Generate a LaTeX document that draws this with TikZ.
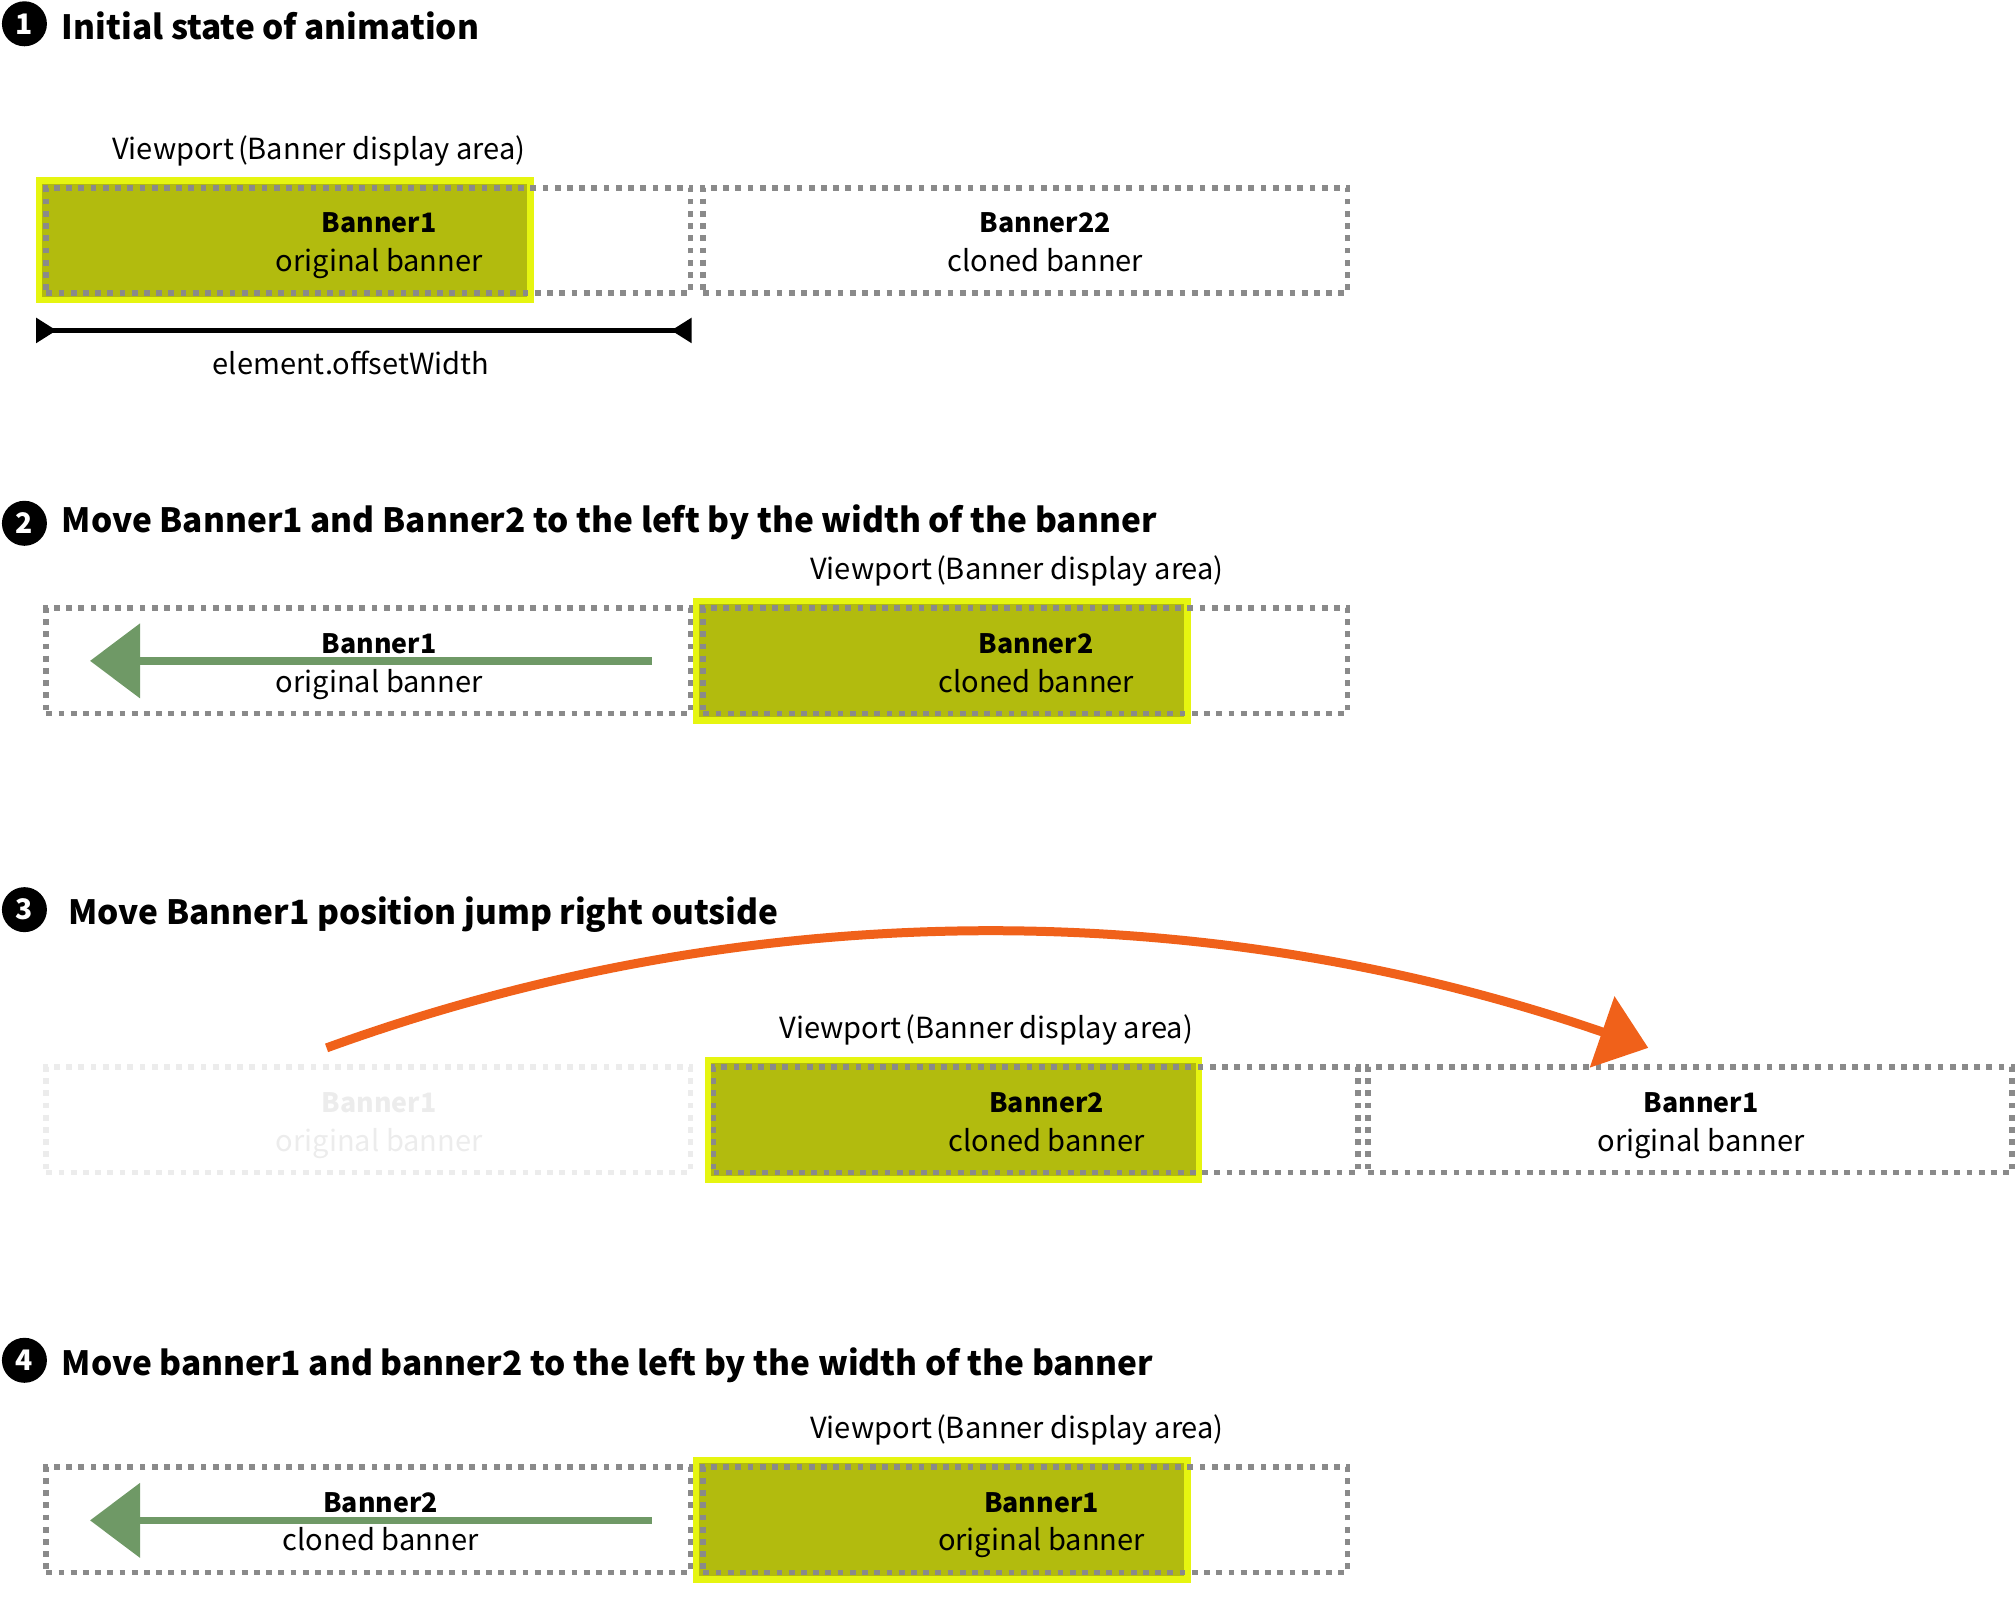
\documentclass[tikz,border=0pt]{standalone}
\usepackage{fontspec}
\setmainfont{Noto Sans CJK KR}
\usetikzlibrary{arrows.meta}
\definecolor{dotgray}{HTML}{8A8A8A}
\definecolor{fadegray}{HTML}{ECECEC}
\definecolor{olivefill}{HTML}{B2BB0E}
\definecolor{limeedge}{HTML}{E6F510}
\definecolor{arrowgreen}{HTML}{6F9966}
\definecolor{jumporange}{HTML}{F0611A}
\tikzset{
  dotbox/.style={draw=dotgray, line width=4.5pt, dash pattern=on 4.5pt off 5pt,
    minimum width=501pt, minimum height=82pt, inner sep=0pt, outer sep=0pt, anchor=north west},
  fadebox/.style={dotbox, draw=fadegray},
  viewbox/.style={fill=olivefill, draw=limeedge, line width=5pt,
    minimum width=382pt, minimum height=93pt, inner sep=0pt, outer sep=0pt, anchor=north west},
  bname/.style={anchor=base, inner sep=0pt, font=\fontsize{20.8}{25}\selectfont\bfseries},
  bsub/.style={anchor=base, inner sep=0pt, font=\fontsize{22.6}{27}\selectfont},
  vplabel/.style={anchor=base, inner sep=0pt, font=\fontsize{22.6}{27}\selectfont},
  stitle/.style={anchor=base west, inner sep=0pt, font=\fontsize{26}{31}\selectfont\bfseries},
  numdot/.style={circle, fill=black, text=white, minimum size=35pt, inner sep=0pt,
    font=\fontsize{22}{22}\selectfont\bfseries},
  moveleft/.style={draw=arrowgreen, line width=6pt,
    -{Triangle[length=39pt, width=57pt]}},
  jump/.style={draw=jumporange, line width=7pt,
    -{Triangle[length=38pt, width=57pt]}},
  dimline/.style={draw=black, line width=3.5pt,
    {Triangle[reversed, length=16pt, width=19pt]}-{Triangle[reversed, length=16pt, width=19pt]}},
  faded/.style={text=fadegray}
}
\begin{document}
\begin{tikzpicture}[x=1pt, y=-1pt]
\useasboundingbox (0,0) rectangle (1568,1253);

% ---------- Section 1 ----------
\node[numdot] (n1) at (19,18.5) {1};
\node[stitle] (t1) at (48,30.5) {Initial state of animation};
\node[vplabel] (vp1) at (248,124) {Viewport\kern3pt(Banner display area)};
\node[viewbox] (y1) at (30.5,140.5) {};
\node[dotbox] (a1) at (36,146) {};
\node[dotbox] (c1) at (547,146) {};
\node[bname] (a1n) at (295,181) {Banner1};
\node[bsub] (a1s) at (295,211.3) {original banner};
\node[bname] (c1n) at (813,181) {Banner22};
\node[bsub] (c1s) at (813,211.3) {cloned banner};
\coordinate (dL) at (28,257);
\coordinate (dR) at (538,257);
\draw[dimline] (dL) -- (dR);
\node[vplabel] (ow) at (273,291.5) {element.offsetWidth};

% ---------- Section 2 ----------
\node[numdot] (n2) at (19,407) {2};
\node[stitle] (t2) at (48,414) {Move Banner1 and Banner2 to the left by the width of the banner};
\node[vplabel] (vp2) at (791,451) {Viewport\kern3pt(Banner display area)};
\node[viewbox] (y2) at (541.5,467.5) {};
\node[dotbox] (a2) at (36,473) {};
\node[dotbox] (c2) at (547,473) {};
\node[bname] (a2n) at (295,508) {Banner1};
\node[bsub] (a2s) at (295,538.3) {original banner};
\node[bname] (c2n) at (806,508) {Banner2};
\node[bsub] (c2s) at (806,538.3) {cloned banner};
\coordinate (g2s) at (507,514);
\coordinate (g2e) at (70,514);
\draw[moveleft] (g2s) -- (g2e);

% ---------- Section 3 ----------
\node[numdot] (n3) at (19,707.5) {3};
\node[stitle] (t3) at (53,719) {Move Banner1 position jump right outside};
\node[vplabel] (vp3) at (767,808) {Viewport\kern3pt(Banner display area)};
\node[fadebox] (a3) at (36,830) {};
\node[bname, faded] (a3n) at (295,865) {Banner1};
\node[bsub, faded] (a3s) at (295,895.3) {original banner};
\node[viewbox] (y3) at (550.5,824.5) {};
\node[dotbox] (c3) at (555,830) {};
\node[dotbox] (d3) at (1064,830) {};
\node[bname] (c3n) at (814,865) {Banner2};
\node[bsub] (c3s) at (814,895.3) {cloned banner};
\node[bname] (d3n) at (1323,865) {Banner1};
\node[bsub] (d3s) at (1323,895.3) {original banner};
\coordinate (j3s) at (254,815);
\coordinate (j3e) at (1282,815);
\draw[jump] (j3s) .. controls (590,693) and (944,698) .. (j3e);

% ---------- Section 4 ----------
\node[numdot] (n4) at (19,1058) {4};
\node[stitle] (t4) at (48,1069.5) {Move banner1 and banner2 to the left by the width of the banner};
\node[vplabel] (vp4) at (791,1119) {Viewport\kern3pt(Banner display area)};
\node[viewbox] (y4) at (541.5,1135.5) {};
\node[dotbox] (a4) at (36,1141) {};
\node[dotbox] (c4) at (547,1141) {};
\node[bname] (a4n) at (296,1176) {Banner2};
\node[bsub] (a4s) at (296,1206.3) {cloned banner};
\node[bname] (c4n) at (810,1176) {Banner1};
\node[bsub] (c4s) at (810,1206.3) {original banner};
\coordinate (g4s) at (507,1182.5);
\coordinate (g4e) at (70,1182.5);
\draw[moveleft] (g4s) -- (g4e);
\end{tikzpicture}
\end{document}
